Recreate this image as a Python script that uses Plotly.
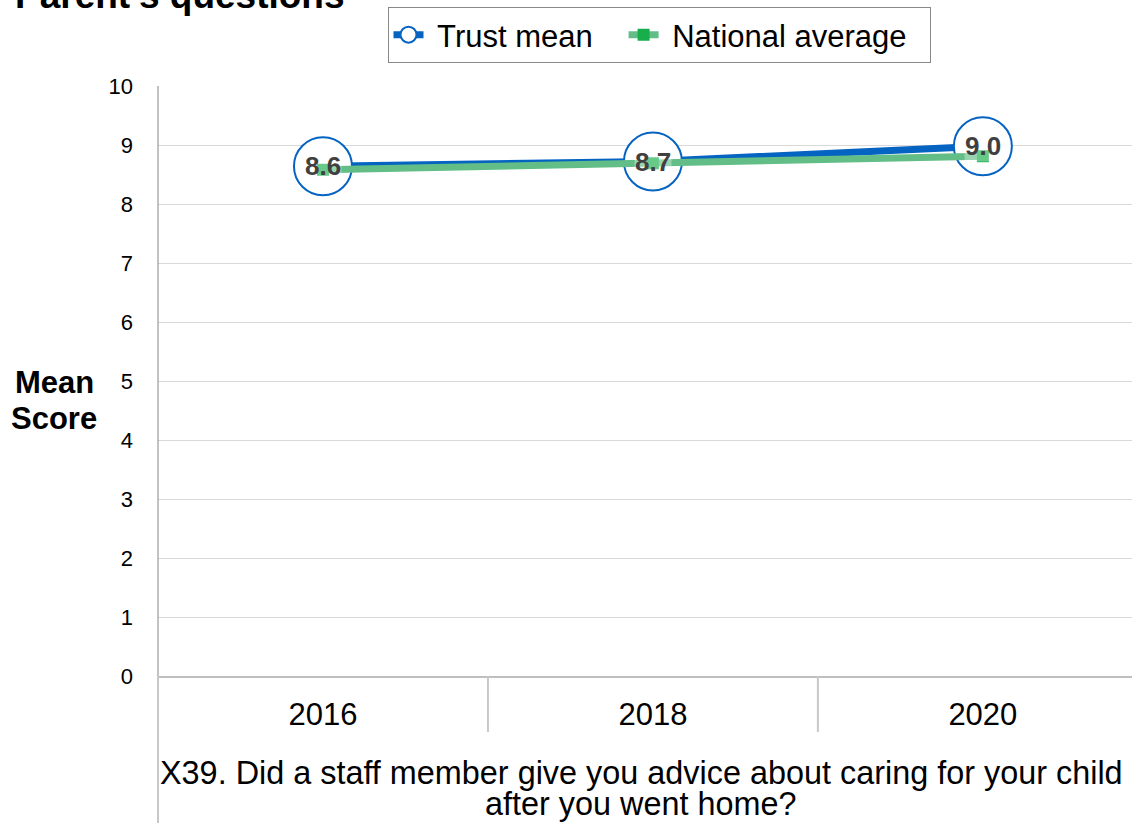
import plotly.graph_objects as go

years = ["2016", "2018", "2020"]
trust_mean = [8.64, 8.72, 8.98]
national_avg = [8.58, 8.69, 8.81]
trust_labels = ["8.6", "8.7", "9.0"]
y_ticks = [0, 1, 2, 3, 4, 5, 6, 7, 8, 9, 10]
question = ["X39. Did a staff member give you advice about caring for your child",
            "after you went home?"]
title_text = "Parent's questions"
y_title = ["Mean", "Score"]
series_names = ["Trust mean", "National average"]

FONT = "Arial, Liberation Sans, sans-serif"
BLUE = "#0563C1"
GREEN_LINE = "#62BE86"
GREEN_MARK = "#17AE4B"
NB = "\u00a0"

W, H = 1132, 823
L, R, T, B = 158, 0, 86, 147
PW = W - L - R
PH = H - T - B

def px_x(p):
    return (p - L) / PW

def px_y(p):
    return (H - B - p) / PH

fig = go.Figure()
fig.add_trace(go.Scatter(
    x=years, y=trust_mean, name=NB + series_names[0] + NB * 3, mode="lines+markers",
    line=dict(color=BLUE, width=7),
    marker=dict(size=58, color="white", line=dict(color=BLUE, width=2)),
    hoverinfo="skip"))
fig.add_trace(go.Scatter(
    x=years, y=national_avg, name=NB + series_names[1] + NB * 2, mode="lines+markers",
    line=dict(color=GREEN_LINE, width=7),
    marker=dict(size=12, symbol="square", color=GREEN_MARK),
    hoverinfo="skip"))

annotations = []
for i, (v, lab) in enumerate(zip(trust_mean, trust_labels)):
    annotations.append(dict(x=i, y=v, xref="x", yref="y", text="<b>%s</b>" % lab,
                            showarrow=False,
                            font=dict(family=FONT, size=26, color="#404040"),
                            bgcolor="rgba(255,255,255,0.35)", borderpad=0))

annotations.append(dict(x=px_x(347), y=px_y(-5), xref="paper", yref="paper", xanchor="right",
                        yanchor="middle", text="<b>%s</b>" % title_text, showarrow=False,
                        font=dict(family=FONT, size=37, color="black")))
for i, t in enumerate(y_title):
    annotations.append(dict(x=px_x(54), y=px_y(382 + 36 * i), xref="paper", yref="paper",
                            xanchor="center", yanchor="middle", text="<b>%s</b>" % t,
                            showarrow=False, font=dict(family=FONT, size=31, color="black")))
for i, t in enumerate(question):
    annotations.append(dict(x=px_x(641), y=px_y(773 + 31 * i), xref="paper", yref="paper",
                            xanchor="center", yanchor="middle", text=t,
                            showarrow=False, font=dict(family=FONT, size=32.4, color="black")))

shapes = [
    dict(type="line", xref="paper", yref="paper", x0=0, x1=0, y0=1, y1=0,
         line=dict(color="#868686", width=1)),
    dict(type="line", xref="paper", yref="paper", x0=0, x1=0, y0=0, y1=px_y(H),
         line=dict(color="#C8C8C8", width=2)),
]
for xb in [0.5, 1.5]:
    shapes.append(dict(type="line", xref="x", yref="paper", x0=xb, x1=xb, y0=0, y1=px_y(732),
                       line=dict(color="#C8C8C8", width=2)))

fig.update_layout(
    width=W, height=H, margin=dict(l=L, r=R, t=T, b=B, pad=0),
    paper_bgcolor="white", plot_bgcolor="white",
    font=dict(family=FONT, color="black"),
    showlegend=True,
    legend=dict(orientation="h", x=px_x(659), xanchor="center", y=px_y(7), yanchor="top",
                bordercolor="#888888", borderwidth=1, bgcolor="white",
                font=dict(family=FONT, size=31, color="black"),
                itemsizing="trace", tracegroupgap=0, itemwidth=30),
    xaxis=dict(type="category", range=[-0.5, 2.452], showgrid=False, showline=True,
               linecolor="#BFBFBF", linewidth=2, ticks="", tickfont=dict(size=31),
               ticklabelstandoff=10, zeroline=False, fixedrange=True),
    yaxis=dict(range=[0, 10], tickvals=y_ticks, showgrid=True, gridcolor="#D9D9D9",
               gridwidth=1, showline=False, ticks="", tickfont=dict(size=22),
               ticklabelstandoff=24, zeroline=False, fixedrange=True),
    annotations=annotations, shapes=shapes,
    hovermode=False,
)

fig.write_html("out.html", config={"displayModeBar": False},
               post_script="document.body.style.margin='0';document.body.style.overflow='hidden';")
